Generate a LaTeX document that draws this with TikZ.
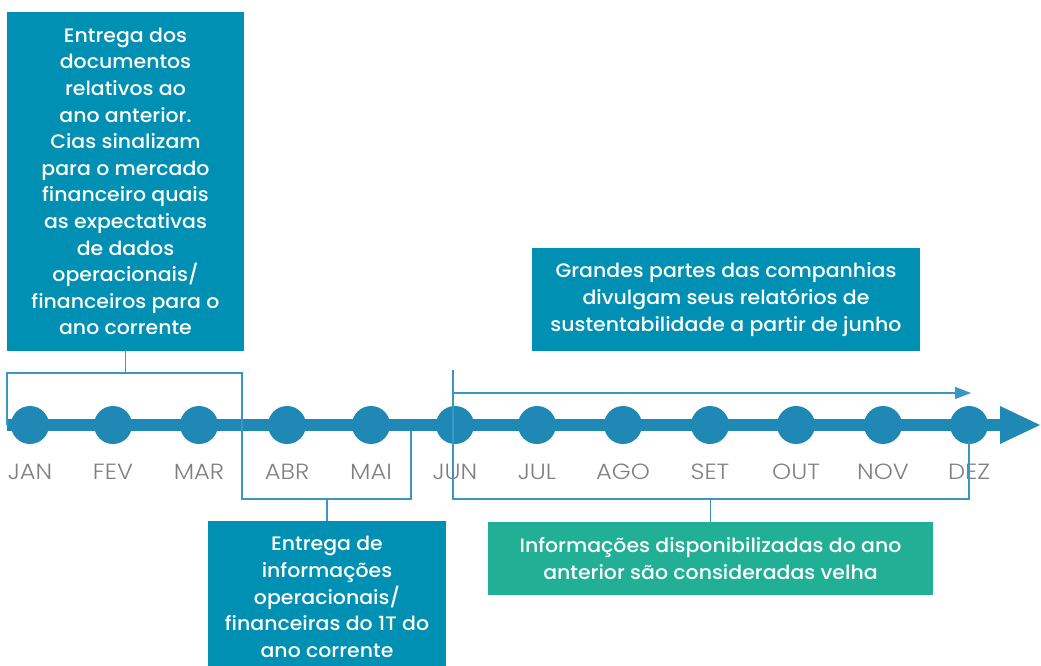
\documentclass[tikz,border=0pt]{standalone}
\usepackage{fontspec}
\setmainfont{Poppins}
\newfontfamily\boxfont{Poppins}[UprightFont=* Medium, FakeStretch=1.05]
\newfontfamily\monthfont{Poppins}[UprightFont=* Light, FakeStretch=1.1]
\usetikzlibrary{arrows.meta}
\definecolor{boxblue}{HTML}{0090B3}
\definecolor{tline}{HTML}{1F88B5}
\definecolor{bline}{HTML}{3A97C1}
\definecolor{boxgreen}{HTML}{21AF96}
\definecolor{mgray}{HTML}{808080}
\begin{document}
\begin{tikzpicture}[x=1pt,y=-1pt,
  box/.style={fill=boxblue, text=white, inner sep=0pt, align=center,
    font=\boxfont\fontsize{19.5}{26.6}\selectfont},
  gbox/.style={box, fill=boxgreen},
  month/.style={circle, fill=tline, minimum size=38pt, inner sep=0pt},
  mlabel/.style={text=mgray, font=\monthfont\fontsize{22}{24}\selectfont},
  bl/.style={draw=bline, line width=1.5pt}]
\useasboundingbox (0,0) rectangle (1041,666);

% boxes
\node[box, minimum width=237pt, minimum height=339pt] (b1) at (125.5,181.5)
  {Entrega dos\\documentos\\relativos ao\\ano anterior.\\Cias sinalizam\\para o mercado\\financeiro quais\\as expectativas\\de dados\\operacionais/\\financeiros para o\\ano corrente};
\node[box, minimum width=238pt, minimum height=152pt] (b2) at (327,597)
  {Entrega de\\informações\\operacionais/\\financeiras do 1T do\\ano corrente};
\node[box, minimum width=388pt, minimum height=103pt] (b3) at (726,299.5)
  {Grandes partes das companhias\\divulgam seus relatórios de\\sustentabilidade a partir de junho};
\node[gbox, minimum width=445pt, minimum height=73pt] (b4) at (710.5,558.5)
  {Informações disponibilizadas do ano\\anterior são consideradas velha};

% timeline
\coordinate (ts) at (7,425);
\coordinate (te) at (1001,425);
\draw[tline, line width=12pt] (ts) -- (te);
\fill[tline] (1000,406) -- (1040,425) -- (1000,444) -- cycle;

\foreach \x/\n/\t in {30/1/JAN,113/2/FEV,199/3/MAR,287/4/ABR,371/5/MAI,455/6/JUN,537/7/JUL,623/8/AGO,710/9/SET,796/10/OUT,883/11/NOV,969/12/DEZ}{
  \node[month] (m\n) at (\x,425) {};
  \node[mlabel] (l\n) at (\x,472) {\t};
}

% bracket 1 (JAN-MAR)
\coordinate (k1a) at (7,425);
\coordinate (k1b) at (7,373);
\coordinate (k1c) at (242,373);
\coordinate (k1d) at (242,499);
\coordinate (k1e) at (411,499);
\coordinate (k1f) at (411,431);
\draw[bl] (k1a) -- (k1b) -- (k1c) -- (k1d) -- (k1e) -- (k1f);
\draw[bl] (b1.south) -- (b1.south |- k1b);
\draw[bl] (b2.north) -- (b2.north |- k1d);

% bracket 2 (JUN-DEZ)
\coordinate (k2a) at (453,370);
\coordinate (k2b) at (453,499);
\coordinate (k2c) at (969,499);
\coordinate (k2d) at (969,441);
\draw[bl] (k2a) -- (k2b) -- (k2c) -- (k2d);
\coordinate (a1) at (453,393);
\coordinate (a2) at (971,393);
\draw[bl, -{Triangle[length=16pt, width=12pt]}] (a1) -- (a2);
\draw[bl] (b4.north) -- (b4.north |- k2c);
\end{tikzpicture}
\end{document}
